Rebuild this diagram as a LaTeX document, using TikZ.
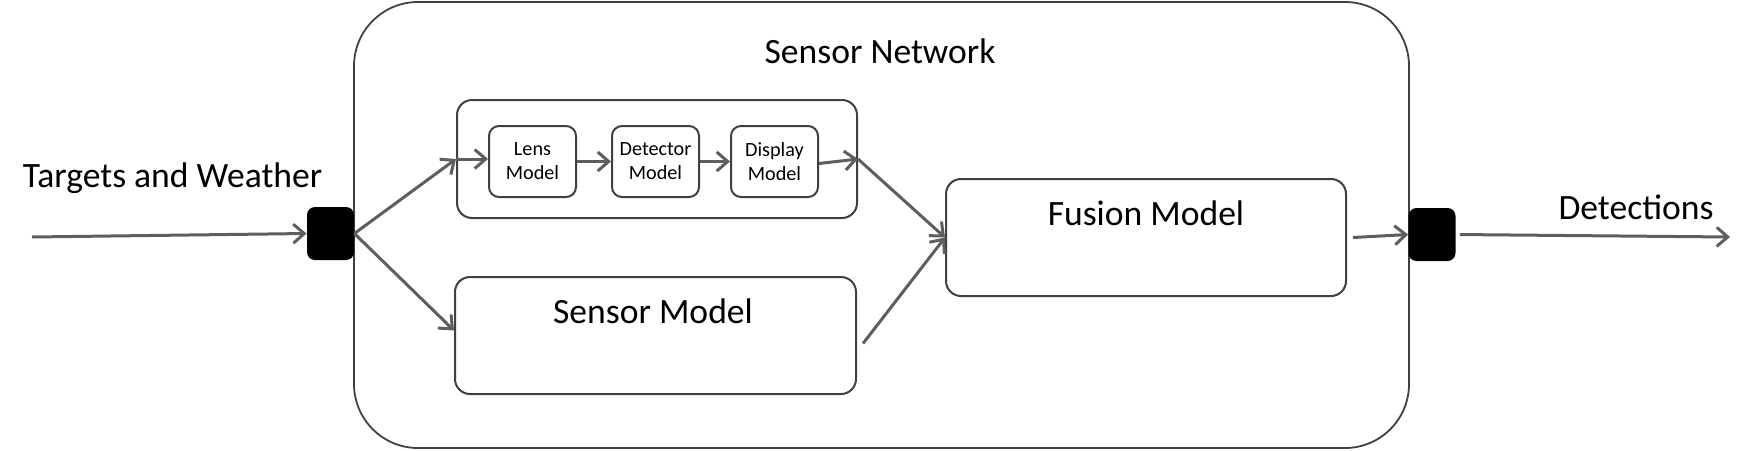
\documentclass[tikz,border=0pt]{standalone}
\usepackage{fontspec}
\setmainfont{Carlito}
\usepackage{xcolor}
\usetikzlibrary{arrows.meta}
\definecolor{vdarkgray}{HTML}{404040}
\definecolor{varrow}{HTML}{5e5e5e}
\tikzset{
	flow/.style={color=varrow, line width=1.5pt, -{Straight Barb[length=5.5pt,width=9.5pt]}},
	modelbox/.style={draw=vdarkgray, line width=1pt, rectangle, rounded corners=7.5pt, inner sep=0pt},
	smallbox/.style={draw=vdarkgray, line width=1pt, rectangle, rounded corners=5pt, inner sep=0pt, minimum width=43.5pt, minimum height=35.5pt, align=center, font=\fontsize{10.1}{12}\selectfont},
	port/.style={fill=black, rectangle, rounded corners=4pt, inner sep=0pt, minimum width=23.5pt, minimum height=26.5pt},
	bigtext/.style={anchor=base, inner sep=0pt, font=\fontsize{17.8}{20}\selectfont}
}
\begin{document}
\begin{tikzpicture}[x=0.5pt, y=-0.5pt]
	\useasboundingbox (0,0) rectangle (1748,450);
	\node[draw=vdarkgray, line width=0.9pt, rectangle, rounded corners=32pt, inner sep=0pt, minimum width=527.5pt, minimum height=223pt] (network) at (881.5,225) {};
	\node[bigtext] (networklabel) at (880,63) {Sensor Network};
	\node[port] (inport) at (330.5,233.5) {};
	\node[port] (outport) at (1432,234.5) {};
	\node[modelbox, minimum width=200pt, minimum height=59pt] (chain) at (657,159) {};
	\node[smallbox] (lens) at (532.5,161.5) {Lens\\Model};
	\node[smallbox] (detector) at (655.5,161.5) {Detector\\Model};
	\node[smallbox] (display) at (774.5,161.5) {Display\\Model};
	\node[modelbox, minimum width=200.5pt, minimum height=58.5pt] (sensor) at (655.5,335.5) {};
	\node[bigtext] (sensorlabel) at (653,323) {Sensor Model};
	\node[modelbox, minimum width=200pt, minimum height=58.5pt] (fusion) at (1146,237.5) {};
	\node[bigtext] (fusionlabel) at (1146,225) {Fusion Model};
	\node[bigtext] (inlabel) at (172.5,187) {Targets and Weather};
	\node[bigtext] (outlabel) at (1636,219) {Detections};
	\coordinate (src) at (32,237);
	\coordinate (sink) at (1730,237);
	\draw[flow] (src) -- (inport.west);
	\draw[flow] (inport.east) -- (chain.west);
	\draw[flow] (inport.east) -- ([yshift=2.5pt]sensor.west);
	\draw[flow] (chain.west) -- (chain.west -| lens.west);
	\draw[flow] (lens.east) -- (lens.east -| detector.west);
	\draw[flow] (detector.east) -- (detector.east -| display.west);
	\draw[flow] ([yshift=-1pt]display.east) -- (chain.east);
	\draw[flow] (chain.east) -- (fusion.west);
	\draw[flow] ([shift={(6,8)}]sensor.east) -- (fusion.west);
	\draw[flow] ([xshift=3pt]fusion.east) -- (outport.west);
	\draw[flow, shorten <=2pt] (outport.east) -- (sink);
\end{tikzpicture}
\end{document}
